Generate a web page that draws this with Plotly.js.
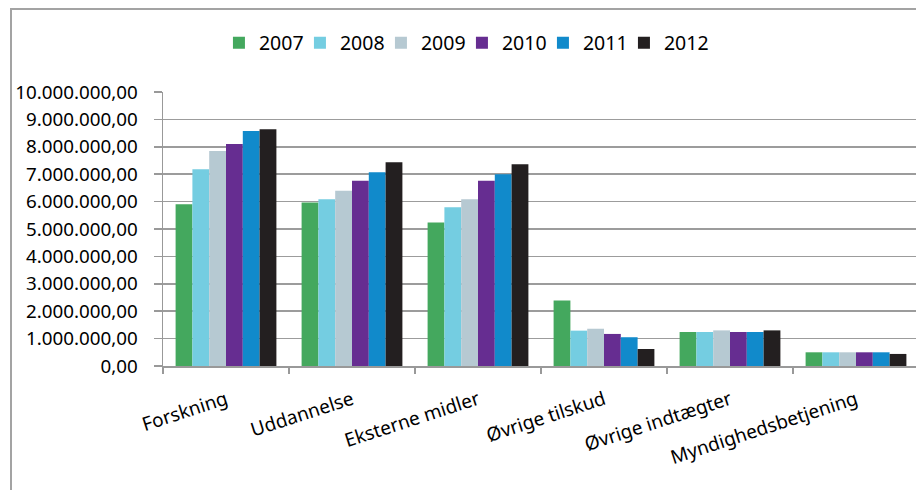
<!DOCTYPE html>
<html>
<head>
<meta charset="utf-8">
<script src="https://cdn.plot.ly/plotly-3.0.1.min.js"></script>
<style>
  html, body { margin: 0; padding: 0; width: 916px; height: 490px; overflow: hidden; background: #fff; }
  #chart { position: absolute; left: 0; top: 0; width: 930px; height: 490px; }
  #frame { position: absolute; left: 10px; top: 8px; width: 960px; height: 600px;
           border-left: 2px solid #a3a3a3; border-top: 2px solid #a3a3a3; pointer-events: none; }
</style>
</head>
<body>
<div id="chart"></div>
<div id="frame"></div>
<script>
const categories = ['Forskning', 'Uddannelse', 'Eksterne midler', 'Øvrige tilskud', 'Øvrige indtægter', 'Myndighedsbetjening'];
const years = ['2007', '2008', '2009', '2010', '2011', '2012'];
const v2007 = [5900000, 5970000, 5240000, 2390000, 1240000, 500000];
const v2008 = [7180000, 6090000, 5790000, 1290000, 1240000, 500000];
const v2009 = [7850000, 6400000, 6090000, 1360000, 1300000, 500000];
const v2010 = [8100000, 6760000, 6760000, 1170000, 1240000, 500000];
const v2011 = [8580000, 7070000, 7000000, 1050000, 1240000, 500000];
const v2012 = [8640000, 7440000, 7360000, 620000, 1300000, 440000];
const yTicks = [0, 1000000, 2000000, 3000000, 4000000, 5000000, 6000000, 7000000, 8000000, 9000000, 10000000];

const series = [v2007, v2008, v2009, v2010, v2011, v2012];
const colors = ['#44A85E', '#74CDE1', '#B6C9D2', '#662D91', '#118ACB', '#231F20'];

const traces = series.map((vals, i) => ({
  type: 'bar',
  name: years[i],
  x: categories,
  y: vals,
  marker: { color: colors[i] },
  legendwidth: i === series.length - 1 ? 60 : 36
}));

const FONT = 'Noto Sans, Open Sans, sans-serif';

const layout = {
  width: 930,
  height: 490,
  margin: { l: 163, r: 11, t: 92, b: 124 },
  paper_bgcolor: 'rgba(0,0,0,0)',
  plot_bgcolor: 'rgba(0,0,0,0)',
  separators: ',.',
  barmode: 'group',
  bargap: 0.2,
  bargroupgap: 0,
  font: { family: FONT, color: '#000' },
  showlegend: true,
  legend: {
    orientation: 'h',
    x: 0.074,
    xanchor: 'left',
    y: 1.179,
    yanchor: 'middle',
    font: { family: FONT, size: 19.5, color: '#000' },
    entrywidthmode: 'pixels',
    traceorder: 'normal',
    bgcolor: 'rgba(0,0,0,0)'
  },
  xaxis: {
    type: 'category',
    range: [-0.5, 5.5],
    showline: true,
    linecolor: '#999',
    linewidth: 1.5,
    ticks: 'outside',
    tickson: 'boundaries',
    ticklen: 6,
    tickcolor: '#999',
    tickwidth: 1.5,
    tickangle: -18,
    ticklabelstandoff: 14,
    tickfont: { family: FONT, size: 19, color: '#000' },
    showgrid: false,
    zeroline: false
  },
  yaxis: {
    range: [0, 10000000],
    tickmode: 'array',
    tickvals: yTicks,
    tickformat: ',.2f',
    showline: true,
    linecolor: '#999',
    linewidth: 1.5,
    ticks: 'outside',
    ticklen: 8,
    tickcolor: '#999',
    tickwidth: 1.5,
    ticklabelstandoff: 12,
    showgrid: true,
    gridcolor: '#9c9c9c',
    gridwidth: 1.5,
    zeroline: false,
    tickfont: { family: FONT, size: 18.8, color: '#000' }
  }
};

Plotly.newPlot('chart', traces, layout, { displayModeBar: false, staticPlot: true });
</script>
</body>
</html>
